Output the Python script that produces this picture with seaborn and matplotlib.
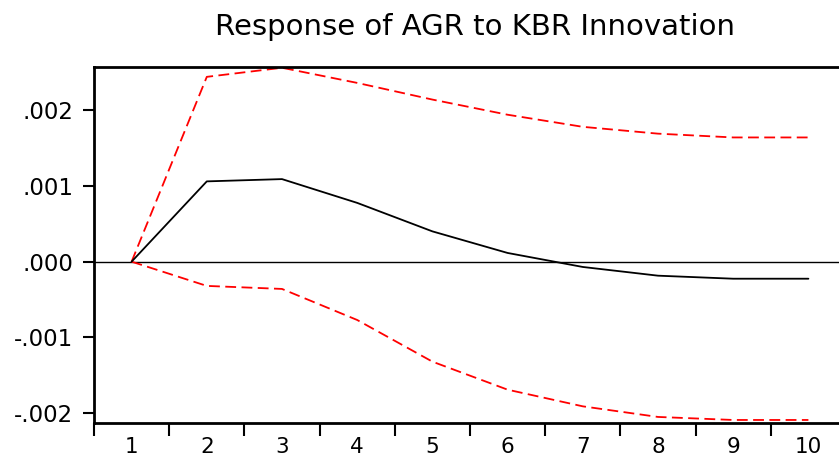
import matplotlib
matplotlib.use("Agg")
import matplotlib.pyplot as plt
import seaborn as sns
import pandas as pd
from matplotlib.ticker import FixedLocator, NullFormatter, FuncFormatter

periods = [1, 2, 3, 4, 5, 6, 7, 8, 9, 10]
response = [0.0, 0.00106, 0.00109, 0.000776, 0.00040, 0.000115, -0.00007, -0.000185, -0.000225, -0.000225]
upper = [0.0, 0.00244, 0.00256, 0.00236, 0.00214, 0.00194, 0.00178, 0.00169, 0.00164, 0.00164]
lower = [0.0, -0.00032, -0.00036, -0.00077, -0.00132, -0.00169, -0.00191, -0.00205, -0.00209, -0.00209]
ytick_vals = [-0.002, -0.001, 0.0, 0.001, 0.002]
ytick_labels = ["-.002", "-.001", ".000", ".001", ".002"]
title = "Response of AGR to KBR Innovation"

sns.set_style("white")
plt.rcParams["font.family"] = ["DejaVu Sans"]
plt.rcParams["text.color"] = "black"
plt.rcParams["xtick.color"] = "black"
plt.rcParams["ytick.color"] = "black"

W, H = 839, 461
fig = plt.figure(figsize=(W / 100, H / 100), dpi=100)
ax = fig.add_axes([94 / W, 1 - 423 / H, (846 - 94) / W, (423 - 67) / H])

df = pd.DataFrame({"period": periods, "response": response, "upper": upper, "lower": lower})
sns.lineplot(data=df, x="period", y="upper", ax=ax, color="#ff0000", lw=1.3,
             linestyle=(0, (6, 3)))
sns.lineplot(data=df, x="period", y="lower", ax=ax, color="#ff0000", lw=1.3,
             linestyle=(0, (6, 3)))
sns.lineplot(data=df, x="period", y="response", ax=ax, color="black", lw=1.3)
ax.axhline(0, color="black", lw=1.0, zorder=1)

ax.set_xlim(0.5, 10.5)
ax.set_ylim(-0.00213, 0.00257)

ax.xaxis.set_major_locator(FixedLocator([p - 0.5 for p in periods] + [10.5]))
ax.xaxis.set_major_formatter(NullFormatter())
ax.xaxis.set_minor_locator(FixedLocator(periods))
ax.xaxis.set_minor_formatter(FuncFormatter(lambda v, p: str(int(round(v)))))
ax.tick_params(axis="x", which="major", direction="out", length=9, width=1.5, color="black", bottom=True)
ax.tick_params(axis="x", which="minor", length=0, pad=10, labelsize=15.5, bottom=True)

ax.set_yticks(ytick_vals)
ax.set_yticklabels(ytick_labels)
ax.tick_params(axis="y", direction="out", length=8, width=1.5, color="black", pad=7, labelsize=16.5, left=True)

for s in ["left", "top", "bottom"]:
    ax.spines[s].set_visible(True)
    ax.spines[s].set_color("black")
    ax.spines[s].set_linewidth(2.0)
ax.spines["right"].set_visible(False)

ax.set_xlabel("")
ax.set_ylabel("")
fig.text(475 / W, 1 - 35 / H, title, ha="center", va="baseline", fontsize=21, color="black")

fig.savefig("out.png", dpi=100)
